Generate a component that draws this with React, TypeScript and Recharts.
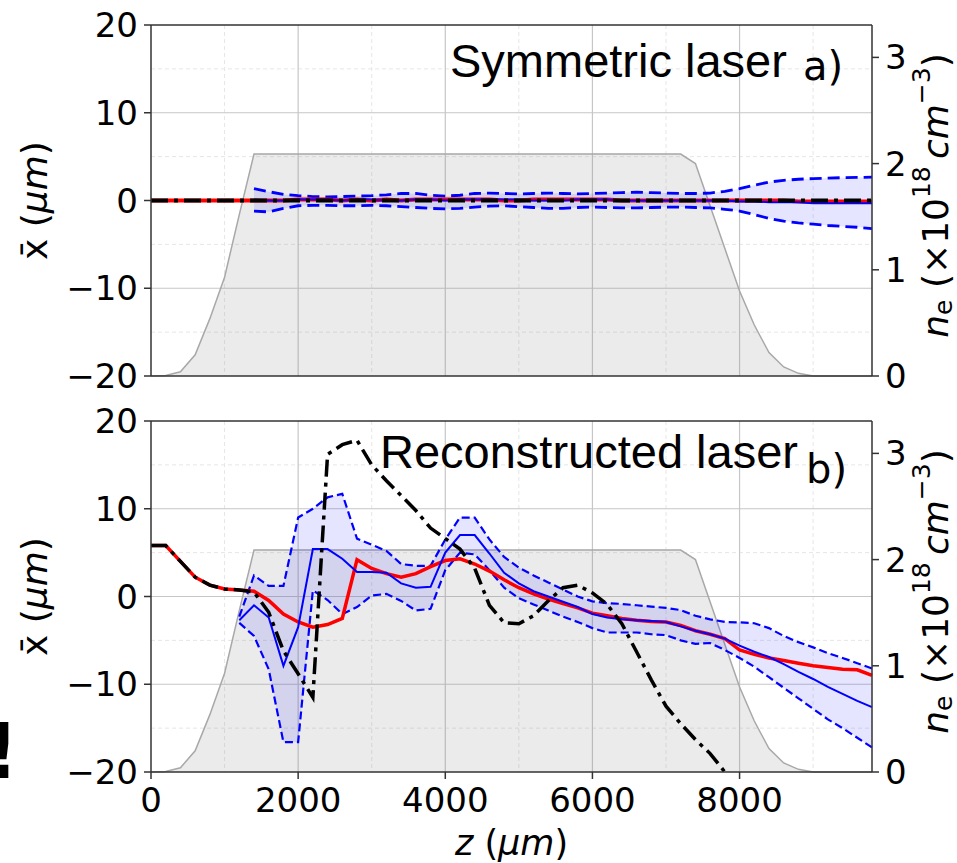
import React from 'react'
import { ComposedChart, Area, Line, XAxis, YAxis, CartesianGrid, ReferenceLine, Label } from 'recharts'

// z positions (µm)
const Z = [
  0, 200, 400, 600, 800, 1000, 1200, 1400, 1600, 1800,
  2000, 2200, 2400, 2600, 2800, 3000, 3200, 3400, 3600, 3800,
  4000, 4200, 4400, 4600, 4800, 5000, 5200, 5400, 5600, 5800,
  6000, 6200, 6400, 6600, 6800, 7000, 7200, 7400, 7600, 7800,
  8000, 8200, 8400, 8600, 8800, 9000, 9200, 9400, 9600, 9800,
]

// plasma density n_e (x1e18 cm^-3), same in both panels
const DENSITY = [
  0, 0.005, 0.04, 0.2, 0.54, 0.93, 1.52, 2.09, 2.09, 2.09,
  2.09, 2.09, 2.09, 2.09, 2.09, 2.09, 2.09, 2.09, 2.09, 2.09,
  2.09, 2.09, 2.09, 2.09, 2.09, 2.09, 2.09, 2.09, 2.09, 2.09,
  2.09, 2.09, 2.09, 2.09, 2.09, 2.09, 2.09, 2.0, 1.6, 1.2,
  0.8, 0.48, 0.22, 0.085, 0.025, 0, 0, 0, 0, 0,
]

// panel a) symmetric laser
const TOP_RED = [
  0, 0, 0, 0, 0, 0, 0, 0, 0, 0,
  0.1, 0.1, 0.1, 0, 0.1, 0, 0.1, 0, 0.1, 0.1,
  0.1, 0.1, 0.1, 0.1, 0, 0, 0.1, 0.1, 0.1, 0.1,
  0.1, 0.1, 0, 0, 0, 0, 0, 0, 0, 0,
  0, 0, 0, 0, -0.1, -0.1, -0.1, -0.1, -0.1, -0.1,
]
const TOP_BLACK = [
  0, 0, 0, 0, 0, 0, 0, 0, 0, 0,
  0, 0, 0, 0, 0, 0, 0, 0, 0, 0,
  0, 0, 0, 0, 0, 0, 0, 0, 0, 0,
  0, 0, 0, 0, 0, 0, 0, 0, 0, 0,
  0, 0, 0, 0, 0, 0, 0, 0, 0, 0,
]
const TOP_MEAN = [
  null, null, null, null, null, null, null, 0.1, 0.0, 0.0,
  0.1, 0.1, 0.1, 0.0, 0.1, 0.1, 0.0, 0.0, 0.1, 0.1,
  0.0, 0.1, 0.1, 0.1, 0.1, 0.1, 0.0, 0.0, 0.0, 0.1,
  0.1, 0.1, 0.0, 0.0, 0.0, 0.0, 0.0, 0.0, 0.0, 0.0,
  -0.1, -0.1, -0.2, -0.2, -0.2, -0.3, -0.3, -0.3, -0.3, -0.3,
]
const TOP_UPPER = [
  null, null, null, null, null, null, null, 1.35, 1.0, 0.7,
  0.55, 0.45, 0.4, 0.45, 0.5, 0.55, 0.65, 0.8, 0.8, 0.6,
  0.5, 0.6, 0.8, 0.85, 0.8, 0.75, 0.8, 0.85, 0.8, 0.75,
  0.8, 0.85, 0.9, 0.95, 0.9, 0.85, 0.8, 0.8, 0.85, 1.05,
  1.35, 1.75, 2.1, 2.3, 2.42, 2.5, 2.55, 2.6, 2.63, 2.66,
]
const TOP_LOWER = [
  null, null, null, null, null, null, null, -1.2, -1.3, -0.9,
  -0.6, -0.55, -0.55, -0.6, -0.6, -0.55, -0.6, -0.7, -0.8, -0.9,
  -0.95, -0.9, -0.75, -0.65, -0.6, -0.7, -0.8, -0.9, -0.9, -0.8,
  -0.75, -0.8, -0.85, -0.85, -0.8, -0.75, -0.75, -0.8, -0.85, -1.0,
  -1.2, -1.6, -2.05, -2.35, -2.55, -2.7, -2.85, -2.95, -3.05, -3.2,
]

// panel b) reconstructed laser
const BOT_RED = [
  5.8, 5.8, 4.0, 2.2, 1.3, 0.85, 0.75, 0.6, -0.45, -2.0,
  -2.9, -3.5, -3.2, -2.5, 4.2, 3.2, 2.6, 2.2, 2.6, 3.4,
  4.1, 4.3, 3.7, 2.9, 1.9, 1.0, 0.3, -0.3, -0.8, -1.3,
  -1.9, -2.2, -2.5, -2.7, -2.85, -2.9, -3.3, -3.9, -4.3, -4.8,
  -6.1, -6.6, -7.0, -7.3, -7.6, -7.9, -8.1, -8.3, -8.35, -9.0,
]
const BOT_BLACK = [
  5.8, 5.8, 4.0, 2.2, 1.3, 0.85, 0.75, 0.5, -1.8, -6.2,
  -8.8, -11.5, 16.2, 17.3, 17.8, 15.0, 13.2, 11.5, 9.8, 7.8,
  6.6, 5.4, 3.2, -1.0, -3.0, -3.1, -2.2, -0.5, 1.0, 1.3,
  0.4, -0.9, -3.1, -6.3, -9.5, -12.5, -14.5, -16.3, -17.9, -20,
  null, null, null, null, null, null, null, null, null, null,
]
const BOT_MEAN = [
  null, null, null, null, null, null, -2.7, -1.0, -2.4, -7.9,
  -3.5, 5.4, 5.4, 4.3, 2.8, 2.8, 2.7, 1.5, 1.0, 1.1,
  5.0, 7.0, 7.0, 4.9, 2.7, 1.5, 0.6, 0.0, -0.6, -1.2,
  -2.0, -2.4, -2.6, -2.7, -2.8, -2.9, -3.4, -3.9, -4.3, -4.8,
  -5.6, -6.3, -6.9, -7.7, -8.6, -9.4, -10.3, -11.1, -11.9, -12.6,
]
const BOT_UPPER = [
  null, null, null, null, null, null, -2.3, 2.4, 1.2, 1.2,
  9.0, 10.0, 11.3, 11.7, 6.6, 5.9, 5.2, 3.7, 3.5, 3.5,
  6.5, 9.0, 9.0, 6.5, 4.5, 3.3, 2.4, 1.6, 0.8, 0.0,
  -0.55, -0.75, -0.85, -1.0, -1.15, -1.3, -1.55, -2.2, -2.6, -2.9,
  -2.95, -3.05, -3.6, -4.5, -5.2, -5.8, -6.45, -7.0, -7.6, -8.2,
]
const BOT_LOWER = [
  null, null, null, null, null, null, -3.0, -4.5, -8.3, -16.6,
  -16.6, 0.7, -0.4, -2.0, -1.2, 0.1, 0.3, -0.5, -1.6, -1.4,
  3.0, 5.0, 4.8, 3.0, 1.0, -0.2, -0.9, -1.6, -2.3, -2.9,
  -3.6, -4.1, -4.1, -4.1, -4.3, -4.4, -5.0, -5.4, -5.3, -6.1,
  -7.0, -8.0, -9.2, -10.4, -11.6, -12.8, -14.0, -15.0, -16.1, -17.2,
]

const Z_TICKS = [0, 2000, 4000, 6000, 8000]
const X_TICKS = [-20, -10, 0, 10, 20]
const NE_TICKS = [0, 1, 2, 3]
const MAJOR_Z = [2000, 4000, 6000, 8000]
const MINOR_Z = [1000, 3000, 5000, 7000, 9000]
const MAJOR_X = [-10, 0, 10]
const MINOR_X = [-15, -5, 5, 15]

const topRows = Z.map((z, i) => ({
  z, dens: DENSITY[i], red: TOP_RED[i], black: TOP_BLACK[i],
  mean: TOP_MEAN[i], lo: TOP_LOWER[i], hi: TOP_UPPER[i],
}))
const botRows = Z.map((z, i) => ({
  z, dens: DENSITY[i], red: BOT_RED[i], black: BOT_BLACK[i],
  mean: BOT_MEAN[i], lo: BOT_LOWER[i], hi: BOT_UPPER[i],
}))

const FONT = 'DejaVu Sans'
const SPINE = '#333333'
const minus = (v: number) => String(v).replace('-', '\u2212')

/* eslint-disable @typescript-eslint/no-explicit-any */
function LeftTitle({ viewBox }: any) {
  const cx = viewBox.x + 34
  const cy = viewBox.y + viewBox.height / 2
  return (
    <text x={cx} y={cy} transform={`rotate(-90 ${cx} ${cy})`} textAnchor="middle" dominantBaseline="central"
      fontFamily={FONT} fontSize={36} fill="#000">
      {'x\u0304 ('}<tspan fontStyle="italic">μm</tspan>)
    </text>
  )
}

function RightTitle({ viewBox }: any) {
  const cx = viewBox.x + 63
  const cy = viewBox.y + viewBox.height / 2 - 5
  return (
    <text x={cx} y={cy} transform={`rotate(-90 ${cx} ${cy})`} textAnchor="middle" dominantBaseline="central"
      fontFamily={FONT} fontSize={36} fill="#000">
      <tspan fontStyle="italic">n</tspan>
      <tspan fontSize={25} dy={8}>e</tspan>
      <tspan dy={-8}> (×10</tspan>
      <tspan fontSize={25} dy={-14}>18</tspan>
      <tspan dy={14} fontStyle="italic">{'\u2009cm'}</tspan>
      <tspan fontSize={25} dy={-14}>−3</tspan>
      <tspan dy={14}>)</tspan>
    </text>
  )
}

function BottomTitle({ viewBox }: any) {
  const cx = viewBox.x + viewBox.width / 2
  return (
    <text x={cx} y={viewBox.y + 83} textAnchor="middle" fontFamily={FONT} fontSize={35} fill="#000">
      <tspan fontStyle="italic">z</tspan> (<tspan fontStyle="italic">μm</tspan>)
    </text>
  )
}
/* eslint-enable @typescript-eslint/no-explicit-any */

interface PanelProps {
  rows: typeof topRows
  top: number
  height: number
  margin: { top: number; right: number; bottom: number; left: number }
  showZ: boolean
  title: string
  titleX: number
  titleY: number
  tag: string
  tagX: number
  tagY: number
  thick: number
  dash: string
  dashWidth: number
  children?: React.ReactNode
}

function Panel(p: PanelProps) {
  const tickStyle = { fontSize: 34, fontFamily: FONT, fill: '#000' }
  return (
    <div style={{ position: 'absolute', left: 0, top: p.top }}>
      <ComposedChart width={957} height={p.height} data={p.rows} margin={p.margin}>
        <CartesianGrid verticalValues={MINOR_Z} horizontalValues={MINOR_X} stroke="#e6e6e6" strokeDasharray="4 3" />
        <CartesianGrid verticalValues={MAJOR_Z} horizontalValues={MAJOR_X} stroke="#c6c6c6" strokeWidth={1.2} />
        <XAxis dataKey="z" type="number" domain={[0, 9800]} ticks={Z_TICKS} interval={0} hide={!p.showZ}
          height={50} tickSize={7} tickMargin={9} tick={tickStyle}
          axisLine={{ stroke: SPINE, strokeWidth: 1.5 }} tickLine={{ stroke: SPINE, strokeWidth: 1.5 }}>
          {p.showZ && <Label content={BottomTitle} />}
        </XAxis>
        <YAxis domain={[-20, 20]} ticks={X_TICKS} interval={0} width={151} tickSize={7} tickMargin={6}
          tick={tickStyle} tickFormatter={minus}
          axisLine={{ stroke: SPINE, strokeWidth: 1.5 }} tickLine={{ stroke: SPINE, strokeWidth: 1.5 }}>
          <Label content={LeftTitle} />
        </YAxis>
        <YAxis yAxisId="n" orientation="right" domain={[0, 3.305]} ticks={NE_TICKS} interval={0} width={85}
          tickSize={7} tickMargin={6} tick={tickStyle}
          axisLine={{ stroke: SPINE, strokeWidth: 1.5 }} tickLine={{ stroke: SPINE, strokeWidth: 1.5 }}>
          <Label content={RightTitle} />
        </YAxis>

        <Area yAxisId="n" type="linear" dataKey="dens" stroke="#a8a8a8" strokeWidth={1.5}
          fill="#808080" fillOpacity={0.16} dot={false} activeDot={false} isAnimationActive={false} />
        <Area type="linear" dataKey={(d: any) => (d.lo == null ? null : [d.lo, d.hi])} stroke="none"
          fill="#0000ff" fillOpacity={0.1} dot={false} activeDot={false} isAnimationActive={false} />

        <Line type="linear" dataKey="hi" stroke="#0000ff" strokeWidth={p.dashWidth} strokeDasharray={p.dash}
          dot={false} activeDot={false} isAnimationActive={false} />
        <Line type="linear" dataKey="lo" stroke="#0000ff" strokeWidth={p.dashWidth} strokeDasharray={p.dash}
          dot={false} activeDot={false} isAnimationActive={false} />
        <Line type="linear" dataKey="red" stroke="#ff0000" strokeWidth={p.thick}
          dot={false} activeDot={false} isAnimationActive={false} />
        <Line type="linear" dataKey="mean" stroke="#0000ff" strokeWidth={2}
          dot={false} activeDot={false} isAnimationActive={false} />
        <Line type="linear" dataKey="black" stroke="#000000" strokeWidth={p.thick} strokeDasharray="17 6 4 6"
          dot={false} activeDot={false} isAnimationActive={false} />

        <ReferenceLine y={20} stroke={SPINE} strokeWidth={1.5} />
        {!p.showZ && <ReferenceLine y={-20} stroke={SPINE} strokeWidth={1.5} />}

        <text x={p.titleX} y={p.titleY} fontFamily="Liberation Sans" fontSize={47} fill="#000">{p.title}</text>
        <text x={p.tagX} y={p.tagY} fontFamily={FONT} fontSize={40} fill="#000">{p.tag}</text>
        {p.children}
      </ComposedChart>
    </div>
  )
}

export default function App() {
  return (
    <div style={{ position: 'absolute', left: 0, top: 0, width: 957, height: 863, background: '#fff', overflow: 'hidden', fontFamily: FONT }}>
      <Panel rows={topRows} top={0} height={400} margin={{ top: 25, right: 0, bottom: 24, left: 0 }} showZ={false}
        title="Symmetric laser" titleX={450} titleY={77} tag="a)" tagX={803} tagY={80}
        thick={4} dash="12 6" dashWidth={2.8} />
      <Panel rows={botRows} top={400} height={463} margin={{ top: 21, right: 0, bottom: 41, left: 0 }} showZ
        title="Reconstructed laser" titleX={380} titleY={68} tag="b)" tagX={806} tagY={83}
        thick={3.5} dash="8 4" dashWidth={2.2}>
        <text x={-16} y={378} fontFamily={FONT} fontWeight="bold" fontSize={77} fill="#000">!</text>
      </Panel>
    </div>
  )
}
